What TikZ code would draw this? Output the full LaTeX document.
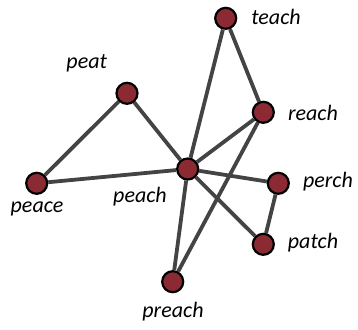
\documentclass[tikz,border=0pt]{standalone}
\usepackage{fontspec}
\setsansfont{Carlito}
\usepackage{tikz}
\usetikzlibrary{positioning,backgrounds}
\definecolor{vertexred}{RGB}{140,42,52}
\definecolor{edgegray}{RGB}{68,68,68}

\begin{document}
\begin{tikzpicture}[x=1pt, y=-1pt,
    vertex/.style={circle, draw=black, line width=2.2pt, fill=vertexred, minimum size=21pt, inner sep=0pt},
    word/.style={font=\sffamily\itshape\fontsize{22}{22}\selectfont},
    link/.style={draw=edgegray, line width=3.8pt}]
    \useasboundingbox (0,0) rectangle (358,329);

    % Vertices
    \node[vertex] (teach) at (225.7, 18.3) {};
    \node[vertex] (peat) at (127, 93.3) {};
    \node[vertex] (reach) at (263.3, 112.3) {};
    \node[vertex] (peach) at (187.7, 169) {};
    \node[vertex] (peace) at (36.7, 183.3) {};
    \node[vertex] (perch) at (278.3, 183.3) {};
    \node[vertex] (patch) at (263.3, 244.3) {};
    \node[vertex] (preach) at (172.7, 281.7) {};

    % Labels
    \node[word] (teachlbl) at (276, 17) {teach};
    \node[word] (peatlbl) at (86.7, 63) {peat};
    \node[word] (reachlbl) at (313, 113) {reach};
    \node[word] (peachlbl) at (140, 197) {peach};
    \node[word] (peacelbl) at (37, 209) {peace};
    \node[word] (perchlbl) at (328, 182) {perch};
    \node[word] (patchlbl) at (313, 243) {patch};
    \node[word] (preachlbl) at (173, 312) {preach};

    % Edges
    \begin{scope}[on background layer]
    \draw[link] (peat) -- (peace);
    \draw[link] (peat) -- (peach);
    \draw[link] (peace) -- (peach);
    \draw[link] (peach) -- (teach);
    \draw[link] (peach) -- (reach);
    \draw[link] (peach) -- (perch);
    \draw[link] (peach) -- (patch);
    \draw[link] (peach) -- (preach);
    \draw[link] (teach) -- (reach);
    \draw[link] (reach) -- (preach);
    \draw[link] (perch) -- (patch);
    \end{scope}
\end{tikzpicture}
\end{document}
